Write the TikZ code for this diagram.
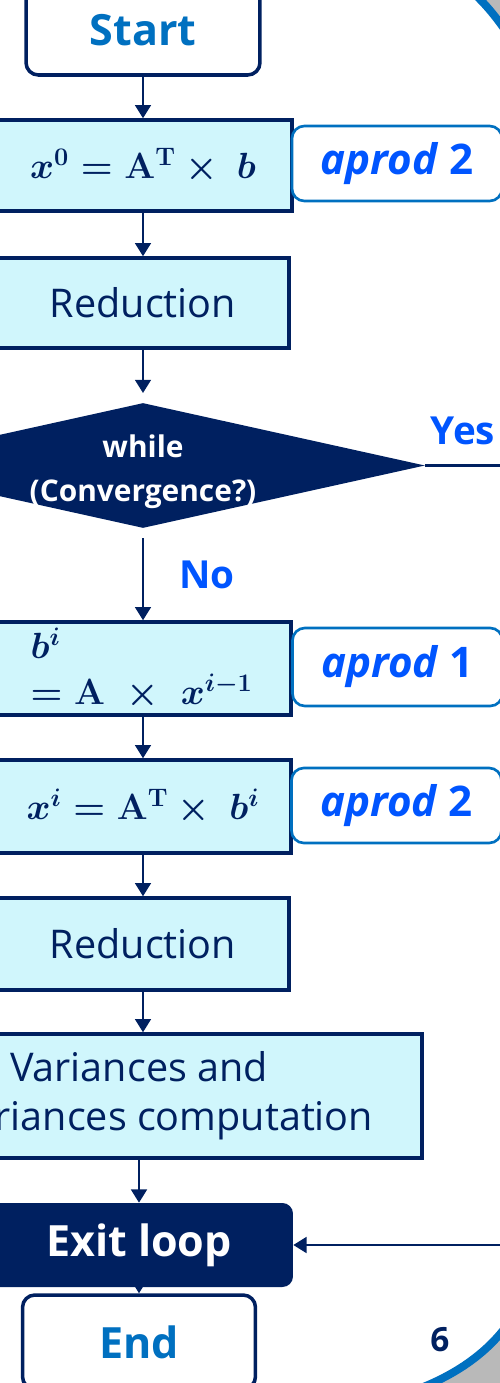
\documentclass[tikz,border=0pt]{standalone}
\usepackage{amsmath,bm}
\usepackage[no-math]{fontspec}
\setmainfont{Open Sans}
\usepackage{tikz}
\usetikzlibrary{
arrows.meta,
positioning,
shapes.geometric
}
\definecolor{flownavy}{HTML}{002060}
\definecolor{flowcyan}{HTML}{D0F6FC}
\definecolor{flowblue}{HTML}{0070C0}
\definecolor{flowbright}{HTML}{0055FF}
\definecolor{flowgray}{HTML}{B9B9B9}

\begin{document}
\begin{tikzpicture}[
  x=0.02cm, y=-0.02cm,
  >={Triangle[length=7.5pt,width=9pt]},
  terminal/.style={draw=flownavy, line width=2pt, rounded corners=7pt, fill=white, text=flowblue, font=\fontsize{24.5}{29}\selectfont\bfseries},
  procbox/.style={draw=flownavy, line width=2pt, fill=flowcyan, text=flownavy, inner sep=0pt, font=\fontsize{22.5}{28}\selectfont},
  mathbox/.style={procbox, font=\fontsize{21}{26}\selectfont\boldmath},
  aprodbox/.style={draw=flowblue, line width=1.5pt, rounded corners=7pt, fill=white, text=flowbright, minimum width=4.2cm, font=\fontsize{24}{29}\selectfont\bfseries},
  decision/.style={diamond, aspect=4.5, inner sep=0pt, fill=flownavy, text=white, font=\fontsize{17}{25}\selectfont\bfseries},
  exitbox/.style={fill=flownavy, rounded corners=6pt, text=white, font=\fontsize{24.5}{29}\selectfont\bfseries},
  answer/.style={text=flowbright, font=\fontsize{22}{26}\selectfont\bfseries},
  flow/.style={->, line width=1.2pt, draw=flownavy}
]
\useasboundingbox (0,0) rectangle (500,1383);
\clip (0,0) rectangle (500,1383);

% Slide corners
\fill[flowgray] (470,-10) .. controls (486,4) and (497,18) .. (512,40) -- (512,-10) -- cycle;
\draw[flowblue, line width=4.5pt] (470,-10) .. controls (486,4) and (497,18) .. (512,40);
\fill[flowgray] (410,1392) .. controls (450,1378) and (488,1355) .. (512,1318) -- (512,1392) -- cycle;
\draw[flowblue, line width=4.5pt] (410,1392) .. controls (450,1378) and (488,1355) .. (512,1318);

% Flow nodes
\node[terminal, minimum width=4.68cm, minimum height=1.8cm] (start) at (143,30) {Start};
\node[mathbox, minimum width=5.96cm, minimum height=1.82cm] (x0) at (143,165.5) {$\boldsymbol{x}^{0} = \mathbf{A}^{\mathrm{T}} \times\ \boldsymbol{b}$};
\node[aprodbox, minimum height=1.5cm] (ap0) at (397,163.5) {\textit{aprod} 2};
\node[procbox, minimum width=5.84cm, minimum height=1.8cm] (red1) at (143,303) {Reduction};
\node[decision, minimum width=11.28cm, minimum height=2.5cm] (cond) at (143,465.5)
  {\smash{\raisebox{-7.4pt}{\begin{tabular}[c]{@{}c@{}}while\\(Convergence?)\end{tabular}}}};
\node[mathbox, minimum width=5.92cm, minimum height=1.86cm, text width=4.5cm, align=left] (bi) at (143,668.5) {\mbox{$\boldsymbol{b}^{i}$}\\\mbox{$=\mathbf{A}\ \times\ \boldsymbol{x}^{i-1}$}};
\node[aprodbox, minimum height=1.56cm] (ap1) at (397.5,667) {\textit{aprod} 1};
\node[mathbox, minimum width=5.92cm, minimum height=1.86cm] (xi) at (143,806.5) {$\boldsymbol{x}^{i} = \mathbf{A}^{\mathrm{T}} \times\ \boldsymbol{b}^{i}$};
\node[aprodbox, minimum height=1.5cm] (ap2) at (396.5,805.5) {\textit{aprod} 2};
\node[procbox, minimum width=5.84cm, minimum height=1.84cm] (red2) at (143,944) {Reduction};
\node[procbox, minimum width=11.32cm, minimum height=2.48cm, align=center] (var) at (139,1096) {Variances and\\Covariances computation};
\node[exitbox, minimum width=6.16cm, minimum height=1.68cm] (exit) at (139,1245) {Exit loop};
\node[terminal, minimum width=4.66cm, minimum height=1.88cm] (end) at (139,1342) {End};

% Labels
\node[answer] (yes) at (463,431) {Yes};
\node[answer] (no) at (207,575) {No};
\node[text=flownavy, font=\fontsize{19}{22}\selectfont\bfseries] (page) at (440,1340) {6};

% Connectors
\draw[flow] (start) -- (x0);
\draw[flow] (x0) -- (red1);
\draw[flow] (red1.south) -- ([yshift=5.5pt]cond.north);
\draw[flow, shorten <=5.5pt] (cond.south) -- (bi.north);
\draw[flow] (bi) -- (xi);
\draw[flow] (xi) -- (red2);
\draw[flow] (red2.south) -- (red2.south |- var.north);
\draw[flow] (var.south) -- (exit.north);
\draw[flow] (exit.south) -- (end.north);
\draw[flow] (cond.east) -- ++(100,0) |- (exit.east);

\end{tikzpicture}
\end{document}
